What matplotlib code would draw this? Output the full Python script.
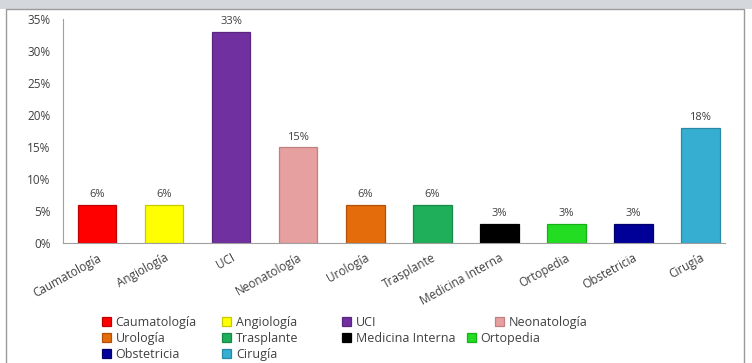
"""
Bar chart of percentage by service, recreated with matplotlib.
"""

import matplotlib.pyplot as plt
from matplotlib.patches import Rectangle

categories = ["Caumatología", "Angiología", "UCI", "Neonatología", "Urología",
              "Trasplante", "Medicina Interna", "Ortopedia", "Obstetricia", "Cirugía"]
values = [6, 6, 33, 15, 6, 6, 3, 3, 3, 18]
colors = ["#FF0000", "#FFFF00", "#7030A0", "#E6A0A0", "#E46C0A",
          "#1FAF5A", "#000000", "#22DD22", "#000099", "#35AED2"]
edges = ["#C00000", "#C8C800", "#5A2680", "#C08080", "#B45008",
         "#178A46", "#000000", "#18B018", "#00006A", "#2A8AA6"]
y_ticks = [0, 5, 10, 15, 20, 25, 30, 35]

text_color = "#404040"
plt.rcParams["font.family"] = ["Open Sans", "DejaVu Sans"]

fig = plt.figure(figsize=(7.52, 3.63), dpi=100)
fig.patch.set_facecolor("white")

# window frame: grey strip on top and a thin border round the chart
fig.patches.append(Rectangle((0, 1 - 9 / 363), 1, 9 / 363, transform=fig.transFigure,
                             facecolor="#D4D8DD", edgecolor="none", zorder=-10))
fig.patches.append(Rectangle((6 / 752, -0.01), 738 / 752, 1 - 9 / 363 + 0.01,
                             transform=fig.transFigure, facecolor="none",
                             edgecolor="#9A9A9A", linewidth=1.0, zorder=-10))

ax = fig.add_axes([63 / 752, 1 - 243 / 363, 662 / 752, 224 / 363])
ax.set_facecolor("none")
x = range(len(categories))
bars = ax.bar(x, values, width=0.58, color=colors, edgecolor=edges, linewidth=0.9)

for rect, v in zip(bars, values):
    ax.text(rect.get_x() + rect.get_width() / 2, v + 0.7, f"{v}%",
            ha="center", va="bottom", fontsize=8, color=text_color)

ax.set_ylim(0, 35)
ax.set_xlim(-0.507, len(categories) - 0.63)
ax.set_yticks(y_ticks)
ax.set_yticklabels([f"{t}%" for t in y_ticks], fontsize=8.5, color=text_color)
ax.set_xticks(list(x))
ax.set_xticklabels(categories, rotation=29, ha="right", rotation_mode="anchor",
                   fontsize=8.5, color=text_color)
ax.tick_params(axis="x", length=0, pad=6)
ax.tick_params(axis="y", length=0, pad=9)
for side in ["top", "right"]:
    ax.spines[side].set_visible(False)
for side in ["left", "bottom"]:
    ax.spines[side].set_color("#A0A0A0")
    ax.spines[side].set_linewidth(0.8)

# legend entries laid out row by row, four per row, as in the original
# (anchored at the bottom so that accents do not shift the rows)
legend_x = [102, 222, 342, 495, 102, 222, 342, 467, 102, 222]
legend_y = [329, 329, 329, 329, 345, 345, 345, 345, 361, 361]
for rect, name, lx, ly in zip(bars, categories, legend_x, legend_y):
    fig.legend(handles=[rect], labels=[name], loc="lower left",
               bbox_to_anchor=(lx / 752, 1 - ly / 363), frameon=False,
               fontsize=9, handlelength=0.7, handleheight=0.7, handletextpad=0.4,
               borderpad=0, borderaxespad=0, labelcolor=text_color)

fig.savefig("out.png", dpi=100)
